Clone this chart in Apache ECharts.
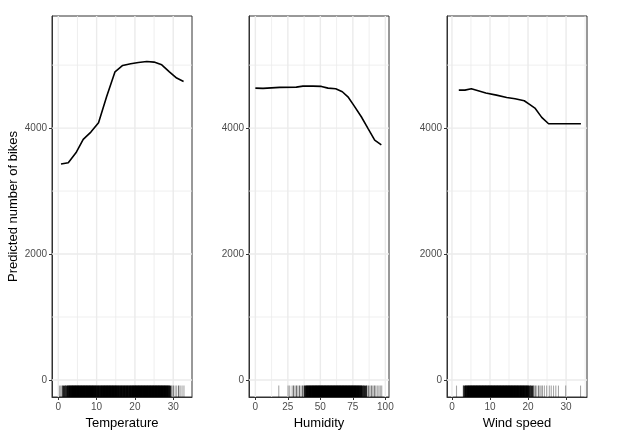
<!DOCTYPE html>
<html>
<head>
<meta charset="utf-8">
<script src="https://cdn.jsdelivr.net/npm/echarts@6/dist/echarts.min.js"></script>
<style>
  html, body { margin: 0; background: #fff; }
  #chart { width: 622px; height: 440px; }
</style>
</head>
<body>
<div id="chart"></div>
<script>
// partial dependence curves
const tempX = [0.7, 2.6, 4.6, 6.5, 8.5, 10.5, 12.6, 14.8, 16.8, 18.9, 20.9, 23.1, 25.0, 27.0, 29.0, 30.9, 32.7]
const tempY = [3429, 3450, 3608, 3820, 3937, 4085, 4497, 4894, 4995, 5021, 5042, 5058, 5048, 5005, 4894, 4794, 4741]

const humX = [0, 5.9, 18.7, 31.5, 36.6, 44.3, 50.8, 55.9, 61.8, 66.9, 71.2, 75.6, 81.5, 86.6, 91.8, 96.9]
const humY = [4635, 4630, 4646, 4651, 4667, 4667, 4662, 4635, 4624, 4577, 4497, 4365, 4180, 3995, 3810, 3735]

const windX = [1.8, 3.4, 5.1, 6.9, 8.9, 11.7, 14.4, 16.6, 19.0, 20.4, 21.9, 23.6, 25.4, 28.5, 33.9]
const windY = [4603, 4603, 4624, 4592, 4556, 4524, 4487, 4466, 4434, 4376, 4312, 4170, 4069, 4069, 4069]

// rug: observed feature values and how many observations sit at each
const tempRug = [0.3, 0.7, 1.1, 1.5, 1.9, 2.3, 2.7, 3.1, 3.5, 3.9, 4.3, 4.7, 5.1, 5.5, 5.9, 6.3, 6.7, 7.1, 7.5, 7.9,
  8.3, 8.7, 9.1, 9.5, 9.9, 10.3, 10.7, 11.1, 11.5, 11.9, 12.3, 12.7, 13.1, 13.5, 13.9, 14.3, 14.7, 15.1, 15.5, 15.9,
  16.3, 16.7, 17.1, 17.5, 17.9, 18.3, 18.7, 19.1, 19.5, 19.9, 20.3, 20.7, 21.1, 21.5, 21.9, 22.3, 22.7, 23.1, 23.5,
  23.9, 24.3, 24.7, 25.1, 25.5, 25.9, 26.3, 26.7, 27.1, 27.5, 27.9, 28.3, 28.7, 29.1, 29.6, 30.0, 30.5, 30.9, 31.4,
  31.8, 32.3, 32.8]
const tempRugN = [1, 2, 2, 3, 2, 3, 3, 4, 5, 6, 6, 6, 7, 6, 7, 6, 7, 6, 6, 7,
  6, 6, 5, 5, 3, 4, 3, 4, 5, 6, 6, 5, 6, 6, 5, 6, 5, 5, 4, 3,
  4, 3, 4, 3, 4, 3, 4, 4, 5, 6, 6, 7, 6, 7, 6, 7, 6, 7, 6,
  7, 6, 7, 6, 7, 6, 7, 6, 6, 5, 5, 4, 3, 3, 1, 2, 1, 1, 2,
  1, 1, 1]

const humRug = [18.0, 25.2, 26.4, 28.3, 29.4, 30.6, 31.7, 32.8, 34.0, 35.2, 36.3, 37.4, 38.6, 39.7, 40.9, 42.0, 43.2,
  44.3, 45.5, 46.6, 47.8, 48.9, 50.1, 51.2, 52.4, 53.5, 54.7, 55.8, 57.0, 58.1, 59.3, 60.4, 61.6, 62.7, 63.9, 65.0,
  66.2, 67.3, 68.5, 69.6, 70.8, 71.9, 73.1, 74.2, 75.4, 76.5, 77.7, 78.8, 80.0, 81.1, 82.3, 83.4, 84.6, 85.7, 86.9,
  88.0, 89.2, 90.3, 91.5, 92.6, 93.8, 95.0, 96.1, 97.2]
const humRugN = [1, 1, 1, 1, 2, 1, 2, 1, 2, 1, 2, 2, 3, 3, 4, 4, 5,
  5, 6, 7, 7, 8, 8, 8, 8, 8, 8, 8, 8, 8, 8, 8, 8, 8, 8, 8,
  8, 8, 8, 8, 7, 7, 7, 6, 6, 5, 5, 4, 4, 3, 3, 2, 3, 2, 2,
  1, 2, 1, 2, 1, 1, 1, 1, 1]

const windRug = [1.2, 3.0, 3.4, 3.8, 4.2, 4.6, 5.0, 5.4, 5.8, 6.2, 6.6, 7.0, 7.4, 7.8, 8.2, 8.6, 9.0, 9.4, 9.8,
  10.2, 10.6, 11.0, 11.4, 11.8, 12.2, 12.6, 13.0, 13.4, 13.8, 14.2, 14.6, 15.0, 15.4, 15.8, 16.2, 16.6, 17.0, 17.4,
  17.8, 18.2, 18.6, 19.0, 19.4, 19.8, 20.2, 20.6, 21.0, 21.5, 21.9, 22.3, 22.8, 23.2, 23.7, 24.3, 24.9, 25.6, 26.1,
  26.7, 27.3, 28.0, 29.9, 33.8]
const windRugN = [1, 2, 3, 3, 4, 5, 6, 7, 7, 8, 8, 8, 8, 8, 8, 8, 8, 8, 8,
  8, 8, 8, 8, 8, 8, 8, 7, 8, 7, 7, 7, 6, 7, 6, 6, 5, 6, 5,
  4, 5, 4, 4, 3, 4, 3, 2, 3, 2, 2, 1, 2, 1, 2, 1, 1, 1, 1,
  1, 1, 1, 1, 1]

// axis ticks
const yTicks = [0, 2000, 4000]
const yMinor = [1000, 3000, 5000]
const tempTicks = [0, 10, 20, 30]
const tempMinor = [5, 15, 25]
const humTicks = [0, 25, 50, 75, 100]
const humMinor = [12.5, 37.5, 62.5, 87.5]
const windTicks = [0, 10, 20, 30]
const windMinor = [5, 15, 25, 35]

const yRange = [-270, 5780]
const font = 'Liberation Sans, Arial, sans-serif'
const plotH = 381
const rugH = plotH * 0.03

const panels = [
  { left: 52, width: 140, xr: [-1.65, 34.9], name: 'Temperature', x: tempX, y: tempY, rug: tempRug, rugN: tempRugN, ticks: tempTicks, minor: tempMinor },
  { left: 249, width: 140, xr: [-4.9, 102.8], name: 'Humidity', x: humX, y: humY, rug: humRug, rugN: humRugN, ticks: humTicks, minor: humMinor },
  { left: 447, width: 140, xr: [-1.3, 35.5], name: 'Wind speed', x: windX, y: windY, rug: windRug, rugN: windRugN, ticks: windTicks, minor: windMinor }
]

const grids = [], xAxes = [], yAxes = [], series = []
const plain = v => String(Math.round(v))

panels.forEach((p, i) => {
  grids.push({
    left: p.left, top: 16, width: p.width, height: plotH,
    show: true, borderColor: '#333', borderWidth: 1, backgroundColor: '#fff',
    outerBoundsMode: 'none'
  })
  xAxes.push({
    gridIndex: i, type: 'value', min: p.xr[0], max: p.xr[1],
    axisLine: { show: true, onZero: false, lineStyle: { color: '#333', width: 1 } },
    splitLine: { show: false },
    axisTick: { show: true, customValues: p.ticks, length: 3, lineStyle: { color: '#333' } },
    axisLabel: { customValues: p.ticks, formatter: plain, color: '#4d4d4d', fontSize: 10, margin: 5, fontFamily: font },
    name: p.name, nameLocation: 'middle', nameGap: 19,
    nameTextStyle: { color: '#000', fontSize: 13, fontFamily: font }
  })
  yAxes.push({
    gridIndex: i, type: 'value', min: yRange[0], max: yRange[1],
    axisLine: { show: true, onZero: false, lineStyle: { color: '#333', width: 1 } },
    splitLine: { show: false },
    axisTick: { show: true, customValues: yTicks, length: 3, lineStyle: { color: '#333' } },
    axisLabel: { customValues: yTicks, formatter: plain, color: '#4d4d4d', fontSize: 10, margin: 5, fontFamily: font },
    name: i === 0 ? 'Predicted number of bikes' : '', nameLocation: 'middle', nameGap: 32,
    nameTextStyle: { color: '#000', fontSize: 13, fontFamily: font }
  })

  // background grid lines
  const lines = []
  p.ticks.forEach(v => lines.push([v, 0, 0]))
  p.minor.forEach(v => lines.push([v, 0, 1]))
  yTicks.forEach(v => lines.push([v, 1, 0]))
  yMinor.forEach(v => lines.push([v, 1, 1]))
  series.push({
    type: 'custom', xAxisIndex: i, yAxisIndex: i, silent: true, z: 1,
    data: lines,
    renderItem(params, api) {
      const cs = params.coordSys
      const v = api.value(0)
      const minor = api.value(2) === 1
      let shape
      if (api.value(1) === 1) {
        const py = api.coord([p.xr[0], v])[1]
        shape = { x1: cs.x, y1: py, x2: cs.x + cs.width, y2: py }
      } else {
        const px = api.coord([v, yRange[0]])[0]
        shape = { x1: px, y1: cs.y, x2: px, y2: cs.y + cs.height }
      }
      return {
        type: 'line', shape,
        style: { stroke: '#ebebeb', lineWidth: minor ? 0.8 : 1.4 }
      }
    }
  })

  // rug along the bottom edge, 3% of panel height
  series.push({
    type: 'scatter', xAxisIndex: i, yAxisIndex: i, silent: true, z: 2, clip: false,
    symbol: 'rect',
    symbolOffset: [0, -rugH / 2],
    data: p.rug.map((v, k) => {
      const n = p.rugN[k]
      return {
        value: [v, yRange[0]],
        symbolSize: [n >= 3 ? 3 : 1.1, rugH],
        itemStyle: { color: '#000', opacity: n >= 3 ? 1 - Math.pow(0.5, n) : 1 - Math.pow(0.65, n) }
      }
    })
  })

  series.push({
    type: 'line', xAxisIndex: i, yAxisIndex: i, z: 3, silent: true,
    data: p.x.map((v, k) => [v, p.y[k]]),
    showSymbol: false,
    lineStyle: { color: '#000', width: 1.6 }
  })
})

const chart = echarts.init(document.getElementById('chart'))
chart.setOption({
  animation: false,
  backgroundColor: '#fff',
  grid: grids,
  xAxis: xAxes,
  yAxis: yAxes,
  series: series
})
</script>
</body>
</html>
